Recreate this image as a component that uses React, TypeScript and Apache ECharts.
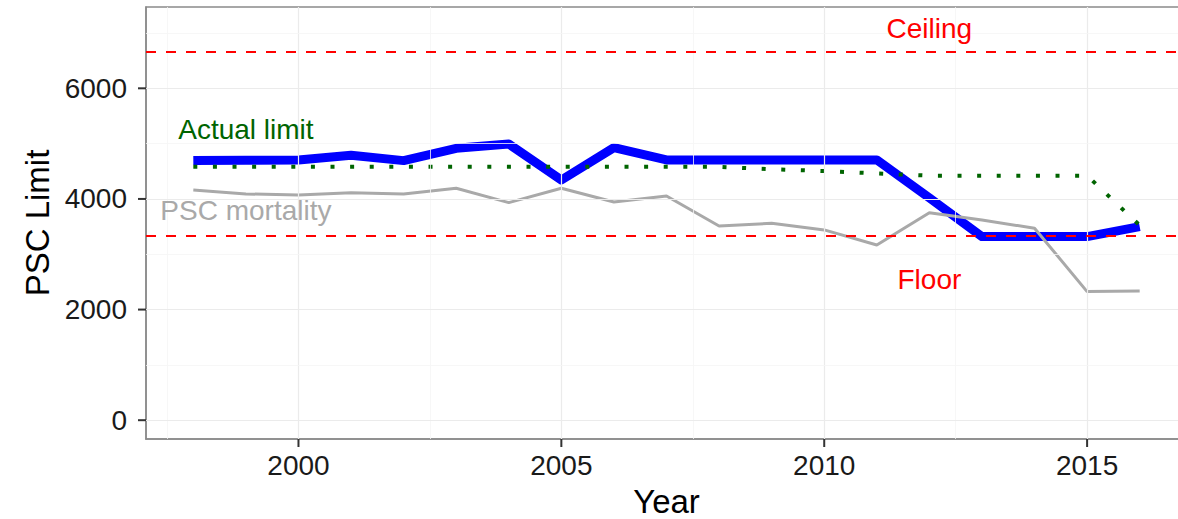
import React, { useEffect, useRef } from "react";
import * as echarts from "echarts";

const years = [1998, 1999, 2000, 2001, 2002, 2003, 2004, 2005, 2006, 2007, 2008, 2009, 2010, 2011, 2012, 2013, 2014, 2015, 2016];
const actualLimit = [4693, 4700, 4705, 4789, 4693, 4916, 4994, 4343, 4928, 4705, 4705, 4705, 4705, 4705, 4020, 3320, 3320, 3320, 3500];
const pscMortality = [4160, 4090, 4072, 4110, 4090, 4193, 3934, 4193, 3946, 4054, 3512, 3560, 3440, 3168, 3752, 3620, 3470, 2325, 2337];
const otherLimit = [4583, 4583, 4583, 4583, 4583, 4583, 4583, 4583, 4583, 4583, 4580, 4536, 4505, 4460, 4421, 4421, 4421, 4421, 3521];
const ceilingValue = 6666;
const floorValue = 3333;

const xTicks = [2000, 2005, 2010, 2015];
const xMinorGrid = [1997.5, 2002.5, 2007.5, 2012.5];
const yTicks = [0, 2000, 4000, 6000];
const yMinorGrid = [1000, 3000, 5000, 7000];

const annotationText = ["Ceiling", "Floor", "Actual limit", "PSC mortality"];
const annotationX = [2012, 2012, 1999, 1999];
const annotationY = [7090, 2540, 5250, 3800];
const annotationColor = ["#ff0000", "#ff0000", "#006400", "#a9a9a9"];

const X_MIN = 1997.1;
const X_MAX = 2016.9;
const Y_MIN = -340;
const Y_MAX = 7470;

const FONT = "'Liberation Sans', Arial, sans-serif";

export default function App() {
  const ref = useRef<HTMLDivElement>(null);
  useEffect(() => {
    if (!ref.current) return;
    const chart = echarts.init(ref.current, null, { renderer: "svg" });
    const pair = (arr: number[]) => years.map((y, i) => [y, arr[i]]);
    const major = { color: "#ebebeb", width: 1.2, type: "solid" };
    const minor = { color: "#f5f5f5", width: 0.8, type: "solid" };
    const gridLines = [
      ...xTicks.map((v) => ({ xAxis: v, lineStyle: major })),
      ...xMinorGrid.map((v) => ({ xAxis: v, lineStyle: minor })),
      ...yTicks.map((v) => ({ yAxis: v, lineStyle: major })),
      ...yMinorGrid.map((v) => ({ yAxis: v, lineStyle: minor })),
    ];
    const borderLine = { show: true, onZero: false, lineStyle: { color: "#8a8a8a", width: 1.5 } };
    const valStyle = { fontSize: 28, color: "#1a1a1a", fontFamily: FONT };
    chart.setOption({
      animation: false,
      backgroundColor: "#ffffff",
      textStyle: { fontFamily: FONT },
      grid: {
        left: 146,
        top: 7,
        bottom: 80,
        width: 1041,
        show: true,
        borderColor: "#8a8a8a",
        borderWidth: 1.5,
        backgroundColor: "transparent",
        containLabel: false,
        outerBoundsMode: "none",
      },
      xAxis: {
        type: "value",
        min: X_MIN,
        max: X_MAX,
        name: "Year",
        nameLocation: "middle",
        nameGap: 46,
        nameTextStyle: { fontSize: 33, color: "#000", fontFamily: FONT },
        axisLine: borderLine,
        splitLine: { show: false },
        axisTick: { show: false },
        axisLabel: {
          fontSize: 28,
          color: "#1a1a1a",
          fontFamily: FONT,
          margin: 0,
          customValues: xTicks,
          formatter: (v: number) => `{t|}\n{v|${v}}`,
          rich: {
            t: { width: 2, height: 8, lineHeight: 8, backgroundColor: "#333333" },
            v: { ...valStyle, padding: [4, 0, 0, 0] },
          },
        },
      },
      yAxis: {
        type: "value",
        min: Y_MIN,
        max: Y_MAX,
        name: "PSC Limit",
        nameLocation: "middle",
        nameRotate: 90,
        nameGap: 86,
        nameTextStyle: { fontSize: 33, color: "#000", fontFamily: FONT },
        axisLine: borderLine,
        splitLine: { show: false },
        axisTick: { show: false },
        axisLabel: {
          fontSize: 28,
          color: "#1a1a1a",
          fontFamily: FONT,
          margin: 0,
          customValues: yTicks,
          formatter: (v: number) => `{v|${v}}{g|}{t|}`,
          rich: {
            v: valStyle,
            g: { width: 11 },
            t: { width: 8, height: 2, backgroundColor: "#333333" },
          },
        },
      },
      series: [
        {
          type: "line",
          data: [],
          z: 1,
          silent: true,
          markLine: { silent: true, symbol: "none", label: { show: false }, data: gridLines, animation: false },
        },
        {
          type: "line",
          name: "Actual limit",
          data: pair(actualLimit),
          z: 2,
          showSymbol: false,
          lineStyle: { color: "#0000ff", width: 9, join: "round" },
        },
        {
          type: "line",
          name: "PSC mortality",
          data: pair(pscMortality),
          z: 3,
          showSymbol: false,
          lineStyle: { color: "#a9a9a9", width: 3 },
        },
        {
          type: "line",
          name: "Limit",
          data: pair(otherLimit),
          z: 4,
          showSymbol: false,
          lineStyle: { color: "#006400", width: 4, type: [4, 15.6], cap: "butt" },
        },
        {
          type: "line",
          data: [],
          z: 5,
          silent: true,
          markLine: {
            silent: true,
            symbol: "none",
            label: { show: false },
            lineStyle: { color: "#ff0000", width: 2, type: [10, 10] },
            data: [{ yAxis: ceilingValue }, { yAxis: floorValue }],
            animation: false,
          },
        },
        {
          type: "scatter",
          z: 6,
          symbolSize: 0,
          silent: true,
          itemStyle: { opacity: 1 },
          data: annotationText.map((t, i) => ({
            name: t,
            value: [annotationX[i], annotationY[i]],
            label: {
              show: true,
              position: "inside",
              formatter: "{b}",
              color: annotationColor[i],
              textBorderWidth: 0,
              opacity: 1,
              fontSize: 28,
              fontFamily: FONT,
            },
          })),
        },
      ],
    });
    return () => chart.dispose();
  }, []);
  return <div ref={ref} style={{ position: "fixed", left: 0, top: 0, width: 1178, height: 519 }} />;
}
